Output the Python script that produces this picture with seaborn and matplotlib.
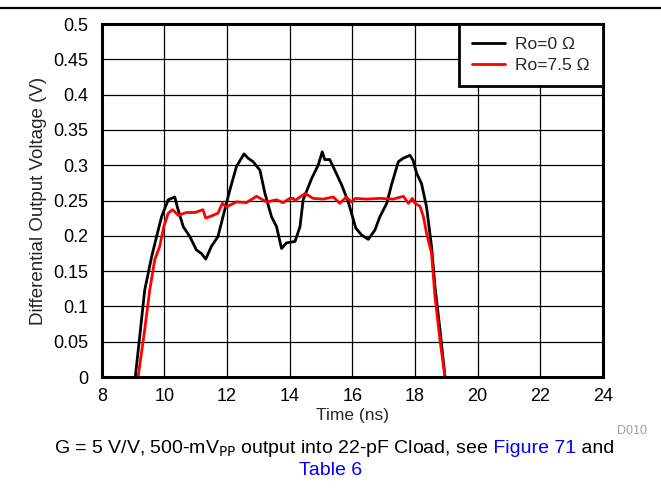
import matplotlib
matplotlib.use("Agg")
import matplotlib.pyplot as plt
import seaborn as sns

# Ro = 0 ohm (black)
t_ro0 = [9.07, 9.21, 9.37, 9.59, 9.75, 9.91, 10.12, 10.33, 10.41, 10.60, 10.81, 11.02,
         11.18, 11.32, 11.50, 11.71, 11.87, 12.09, 12.30, 12.54, 12.67, 12.83, 13.05,
         13.21, 13.42, 13.58, 13.74, 13.90, 14.17, 14.33, 14.43, 14.70, 14.91, 15.04,
         15.12, 15.28, 15.44, 15.66, 15.87, 16.11, 16.30, 16.51, 16.72, 16.88, 17.10,
         17.25, 17.47, 17.63, 17.84, 17.94, 18.05, 18.21, 18.37, 18.53, 18.64, 18.80, 18.96]
v_ro0 = [0.0, 0.057, 0.123, 0.170, 0.199, 0.227, 0.251, 0.255, 0.241, 0.213, 0.199, 0.180,
         0.175, 0.167, 0.185, 0.199, 0.227, 0.265, 0.298, 0.316, 0.310, 0.305, 0.293,
         0.260, 0.227, 0.213, 0.182, 0.190, 0.192, 0.213, 0.251, 0.281, 0.300, 0.319,
         0.308, 0.308, 0.293, 0.272, 0.248, 0.211, 0.201, 0.195, 0.208, 0.227, 0.246,
         0.272, 0.305, 0.310, 0.314, 0.307, 0.289, 0.274, 0.241, 0.185, 0.128, 0.067, 0.0]

# Ro = 7.5 ohm (red)
t_ro75 = [9.16, 9.37, 9.53, 9.69, 9.85, 9.98, 10.12, 10.26, 10.44, 10.70, 10.97, 11.23,
          11.32, 11.55, 11.71, 11.85, 11.98, 12.30, 12.62, 12.94, 13.26, 13.58, 13.79,
          14.00, 14.11, 14.17, 14.49, 14.75, 15.07, 15.39, 15.60, 15.81, 15.97, 16.10,
          16.45, 16.88, 17.31, 17.63, 17.79, 17.92, 18.00, 18.16, 18.27, 18.37, 18.53,
          18.64, 18.80, 18.96]
v_ro75 = [0.0, 0.067, 0.123, 0.166, 0.185, 0.213, 0.232, 0.237, 0.229, 0.233, 0.233, 0.237,
          0.225, 0.229, 0.232, 0.246, 0.241, 0.248, 0.247, 0.256, 0.248, 0.251, 0.247,
          0.253, 0.253, 0.250, 0.260, 0.253, 0.252, 0.255, 0.246, 0.255, 0.248, 0.253,
          0.252, 0.253, 0.252, 0.256, 0.246, 0.253, 0.246, 0.242, 0.227, 0.204, 0.175,
          0.114, 0.052, 0.0]

x_ticks = [8, 10, 12, 14, 16, 18, 20, 22, 24]
y_ticks = [0, 0.05, 0.1, 0.15, 0.2, 0.25, 0.3, 0.35, 0.4, 0.45, 0.5]
y_tick_labels = ["0", "0.05", "0.1", "0.15", "0.2", "0.25", "0.3", "0.35", "0.4", "0.45", "0.5"]

sns.set_theme(style="white")
plt.rcParams["font.family"] = ["Liberation Sans", "DejaVu Sans"]

fig = plt.figure(figsize=(6.61, 4.9), dpi=100)
ax = fig.add_axes([0.154, 0.2306, 0.758, 0.7204])

sns.lineplot(x=t_ro0, y=v_ro0, ax=ax, color="black", lw=2, sort=False, label="Ro=0 \u03a9")
sns.lineplot(x=t_ro75, y=v_ro75, ax=ax, color="#ff0000", lw=2, sort=False, label="Ro=7.5 \u03a9")

ax.set_xlim(8, 24)
ax.set_ylim(0, 0.5)
ax.set_xticks(x_ticks)
ax.set_yticks(y_ticks)
ax.set_yticklabels(y_tick_labels)
ax.tick_params(labelsize=13, colors="black", length=0)
ax.tick_params(axis="y", pad=10)
ax.tick_params(axis="x", pad=8)
ax.grid(True, color="black", lw=0.9)
ax.set_axisbelow(True)
for sp in ax.spines.values():
    sp.set_color("black")
    sp.set_linewidth(2.2)
ax.set_xlabel("Time (ns)", fontsize=12.5, labelpad=2)
ax.set_ylabel("Differential Output Voltage (V)", fontsize=13.5, labelpad=4)

leg = ax.legend(loc="upper right", borderaxespad=0, fancybox=False, fontsize=12.5,
                handlelength=1.9, handletextpad=0.6, framealpha=1, borderpad=0.75,
                labelspacing=0.35)
leg.get_frame().set_edgecolor("black")
leg.get_frame().set_linewidth(2)

fig.text(0.979, 0.114, "D010", fontsize=9, color="#a0a0a0", ha="right")

# top rule
fig.add_artist(plt.Line2D([0, 1], [0.984, 0.984], color="black", lw=1.6))

# caption with blue links
r = fig.canvas.get_renderer()
parts = [("G = 5 V/V, 500-mV$_{\\mathrm{PP}}$ output into 22-pF Cload, see", "black"),
         (" Figure 71", "#0000ff"), (" and", "black")]
texts = []
for s, c in parts:
    texts.append(fig.text(0, 0.076, s, fontsize=14, color=c, ha="left", va="baseline"))
widths = [tx.get_window_extent(r).width for tx in texts]
x0 = (661 - sum(widths)) / 2 + 4
for tx, w in zip(texts, widths):
    tx.set_x(x0 / 661)
    x0 += w
fig.text(0.5, 0.03, "Table 6", fontsize=14, color="#0000ff", ha="center", va="baseline")

fig.savefig("out.png", dpi=100)
